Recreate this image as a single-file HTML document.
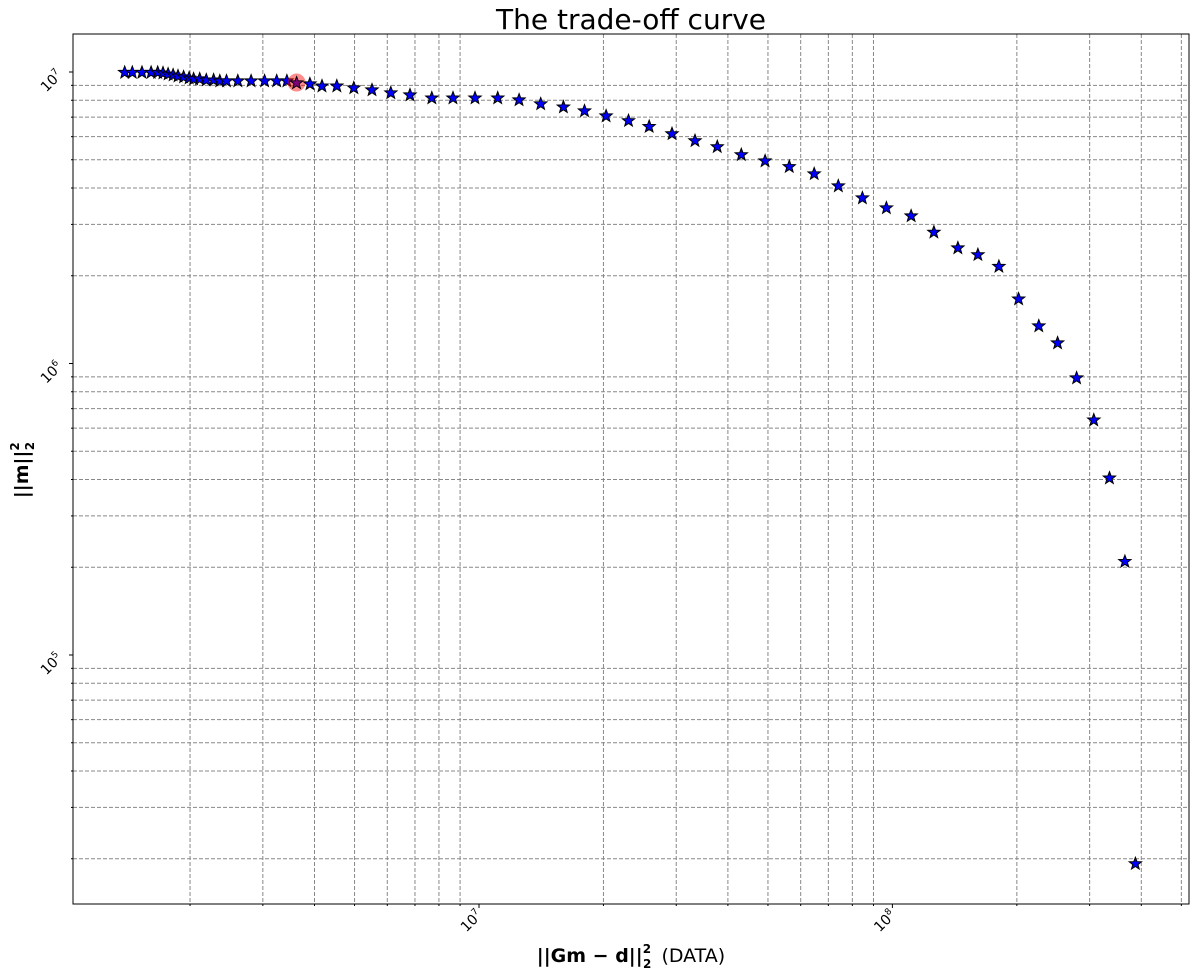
<!DOCTYPE html>
<html><head><meta charset="utf-8"><style>
html,body{margin:0;padding:0;background:#fff;}
svg{display:block;font-family:"DejaVu Sans","Liberation Sans",sans-serif;}
</style></head><body>
<svg id="chart" width="1196" height="977" viewBox="0 0 1196 977">
<text x="631" y="29" text-anchor="middle" font-size="28">The trade-off curve</text>
<g id="grid"></g>
<g id="ticks"></g>
<g id="marks"></g>
<rect x="73" y="34" width="1116" height="870" fill="none" stroke="#000" stroke-width="1"/>
<text x="631" y="962" text-anchor="middle" font-size="19"><tspan font-weight="bold">||Gm − d||</tspan><tspan font-weight="bold" font-size="12" dy="-9">2</tspan><tspan font-weight="bold" font-size="12" dy="15" dx="-8">2</tspan><tspan dy="-6" dx="4"> (DATA)</tspan></text>
<text transform="translate(28,470) rotate(-90)" text-anchor="middle" font-size="19" font-weight="bold">||m||<tspan font-size="12" dy="-9">2</tspan><tspan font-size="12" dy="15" dx="-8">2</tspan></text>
</svg>
<script>
const misfit=[1.39e6,1.45e6,1.53e6,1.61e6,1.67e6,1.72e6,1.77e6,1.82e6,1.87e6,1.93e6,1.99e6,2.04e6,2.11e6,2.19e6,2.28e6,2.36e6,2.45e6,2.61e6,2.81e6,3.03e6,3.24e6,3.43e6,3.62e6,3.90e6,4.17e6,4.53e6,4.98e6,5.51e6,6.12e6,6.81e6,7.69e6,8.65e6,9.78e6,1.11e7,1.25e7,1.41e7,1.60e7,1.80e7,2.03e7,2.30e7,2.58e7,2.93e7,3.33e7,3.77e7,4.31e7,4.92e7,5.63e7,6.47e7,7.40e7,8.46e7,9.67e7,1.11e8,1.26e8,1.44e8,1.61e8,1.81e8,2.02e8,2.26e8,2.51e8,2.79e8,3.07e8,3.35e8,3.65e8,3.87e8];
const modelNorm=[1.0e7,1.0e7,1.0e7,1.0e7,1.0e7,9.95e6,9.87e6,9.8e6,9.72e6,9.65e6,9.57e6,9.5e6,9.5e6,9.42e6,9.42e6,9.35e6,9.35e6,9.35e6,9.35e6,9.35e6,9.35e6,9.35e6,9.2e6,9.13e6,8.98e6,8.98e6,8.85e6,8.71e6,8.51e6,8.37e6,8.17e6,8.17e6,8.17e6,8.17e6,8.05e6,7.80e6,7.61e6,7.38e6,7.09e6,6.83e6,6.52e6,6.16e6,5.83e6,5.56e6,5.22e6,4.97e6,4.75e6,4.49e6,4.08e6,3.71e6,3.43e6,3.22e6,2.83e6,2.50e6,2.37e6,2.16e6,1.67e6,1.35e6,1.18e6,8.95e5,6.42e5,4.06e5,2.10e5,1.93e4];
const selectedIndex=22;
const xTickLabels=["7","8"];
const yTickLabels=["5","6","7"];
const NS="http://www.w3.org/2000/svg";
const L=73,R=1189,T=34,B=904;
const xdec=413.4,xref=479; // 1e7 at x=479
const ydec=291.5,yref=72;  // 1e7 at y=72
function X(v){return xref+(Math.log10(v)-7)*xdec;}
function Y(v){return yref-(Math.log10(v)-7)*ydec;}
function mk(tag,attrs,parent){const e=document.createElementNS(NS,tag);for(const k in attrs)e.setAttribute(k,attrs[k]);parent.appendChild(e);return e;}
const grid=document.getElementById('grid'),ticks=document.getElementById('ticks'),marks=document.getElementById('marks');
for(let d=4;d<=8;d++){for(let m=1;m<10;m++){const v=m*Math.pow(10,d);
 const x=X(v);if(x>L+1&&x<R-1){
  if(m>1){const ln=mk('line',{x1:x,x2:x,y1:T,y2:B,stroke:'#888','stroke-width':1,'stroke-dasharray':'4,2'},grid);
  }
  mk('line',{x1:x,x2:x,y1:B,y2:B+(m==1?4:2),stroke:'#000'},ticks);}
 const y=Y(v);if(y>T+1&&y<B-1){
  if(m>1){const ln=mk('line',{x1:L,x2:R,y1:y,y2:y,stroke:'#888','stroke-width':1,'stroke-dasharray':'4,2'},grid);
  }
  mk('line',{x1:L,x2:L-(m==1?4:2),y1:y,y2:y,stroke:'#000'},ticks);}
}}
xTickLabels.forEach(p=>{const x=X(Math.pow(10,+p));
 const t=mk('text',{x:0,y:0,'font-size':14,'text-anchor':'end',transform:`translate(${x+4},${B+12}) rotate(-45)`},ticks);
 
 t.innerHTML='10<tspan font-size="9" dy="-6">'+p+'</tspan>';});
yTickLabels.forEach(p=>{const y=Y(Math.pow(10,+p));
 const t=mk('text',{x:0,y:0,'font-size':14,'text-anchor':'end',transform:`translate(${L-10},${y+4}) rotate(-45)`},ticks);
 
 t.innerHTML='10<tspan font-size="9" dy="-6">'+p+'</tspan>';});
function star(cx,cy,r){let p=[];for(let i=0;i<10;i++){const a=-Math.PI/2+i*Math.PI/5;const rr=i%2?r*0.42:r;p.push((cx+rr*Math.cos(a)).toFixed(1)+','+(cy+rr*Math.sin(a)).toFixed(1));}return p.join(' ');}
misfit.forEach((v,i)=>{const cx=X(v),cy=Y(modelNorm[i]);
 if(i===selectedIndex){const c=mk('circle',{cx:cx,cy:cy,r:9,fill:'#f00','fill-opacity':0.45},marks);
  }
 const s=mk('polygon',{points:star(cx,cy+0.5,6.5),fill:i===selectedIndex?'#800080':'#00f',stroke:'#000','stroke-width':1},marks);
 });
</script>
</body></html>
